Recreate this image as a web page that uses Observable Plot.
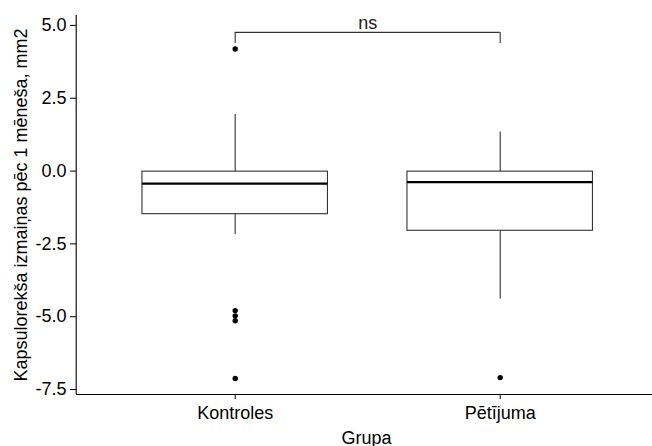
<!DOCTYPE html>
<html>
<head>
<meta charset="utf-8">
<script src="https://cdn.jsdelivr.net/npm/d3@7"></script>
<script src="https://cdn.jsdelivr.net/npm/@observablehq/plot@0.6"></script>
<style>
  html, body { margin: 0; padding: 0; background: #ffffff; }
</style>
</head>
<body>
<div id="chart"></div>
<script>
// Groups and their box-plot summaries (mm2 change after one month)
const categories = ["Kontroles", "Pētījuma"];
const q1 = [-1.48, -2.05];
const median = [-0.43, -0.38];
const q3 = [-0.02, -0.02];
const whiskerLow = [-2.18, -4.40];
const whiskerHigh = [1.94, 1.34];

// Outlying observations per group
const outlierGroup = ["Kontroles", "Kontroles", "Kontroles", "Kontroles", "Kontroles", "Pētījuma"];
const outlierValue = [4.19, -4.79, -4.97, -5.14, -7.12, -7.09];

// Axis ticks and titles
const yTicks = [-7.5, -5.0, -2.5, 0.0, 2.5, 5.0];
const yTitle = "Kapsulorekša izmaiņas pēc 1 mēneša, mm2";
const xTitle = "Grupa";

// Significance bracket between the two groups
const bracketLabel = "ns";
const bracketY = 4.76;
const bracketTip = 4.38;

const pos = (g) => categories.indexOf(g) + 1;
const half = 0.35;

const boxes = categories.map((g, i) => ({
  group: g, x: i + 1, q1: q1[i], median: median[i], q3: q3[i],
  lo: whiskerLow[i], hi: whiskerHigh[i]
}));
const outliers = outlierGroup.map((g, i) => ({x: pos(g), value: outlierValue[i]}));
const bracketEnds = [{x: 1}, {x: 2}];

const xDomain = [0.4, 2.6];
const yDomain = [-7.67, 5.34];
const lineColor = "#333333";

const chart = Plot.plot({
  width: 652,
  height: 446,
  marginLeft: 76,
  marginRight: 0,
  marginTop: 15,
  marginBottom: 52,
  style: {fontFamily: "'Liberation Sans', Arial, sans-serif", fontSize: "18px", color: "#000", background: "#fff"},
  x: {domain: xDomain, range: [75.7, 658.7], axis: null},
  y: {domain: yDomain, axis: null},
  marks: [
    // whiskers
    Plot.ruleX(boxes, {x: "x", y1: "q3", y2: "hi", stroke: lineColor, strokeWidth: 1.1}),
    Plot.ruleX(boxes, {x: "x", y1: "q1", y2: "lo", stroke: lineColor, strokeWidth: 1.1}),
    // boxes
    Plot.rect(boxes, {x1: d => d.x - half, x2: d => d.x + half, y1: "q1", y2: "q3", fill: "#fff", stroke: lineColor, strokeWidth: 1.1}),
    // medians
    Plot.ruleY(boxes, {x1: d => d.x - half, x2: d => d.x + half, y: "median", stroke: "#000", strokeWidth: 2.2}),
    // outliers
    Plot.dot(outliers, {x: "x", y: "value", r: 2.7, fill: "#000", stroke: null}),
    // significance bracket
    Plot.ruleY([bracketY], {x1: 1, x2: 2, y: d => d, stroke: lineColor, strokeWidth: 1.1}),
    Plot.ruleX(bracketEnds, {x: "x", y1: bracketTip, y2: bracketY, stroke: lineColor, strokeWidth: 1.1}),
    Plot.text([bracketLabel], {x: 1.5, y: bracketY, text: d => d, lineAnchor: "bottom", dy: -3, fill: "#222"}),
    // axes
    Plot.ruleX([xDomain[0]], {stroke: "#000", strokeWidth: 1.1}),
    Plot.ruleY([yDomain[0]], {stroke: "#000", strokeWidth: 1.1}),
    Plot.axisY({ticks: yTicks, tickFormat: d => d.toFixed(1), tickSize: 6, tickPadding: 4, label: null, stroke: "#000"}),
    Plot.axisX({ticks: categories.map((_, i) => i + 1), tickFormat: i => categories[i - 1], tickSize: 5, tickPadding: 7, label: null, stroke: "#000"}),
    // axis titles
    Plot.text([yTitle], {frameAnchor: "left", textAnchor: "middle", lineAnchor: "middle", rotate: -90, dx: -55, text: d => d}),
    Plot.text([xTitle], {frameAnchor: "bottom", dx: 2, dy: 49, lineAnchor: "bottom", text: d => d})
  ]
});

document.getElementById("chart").appendChild(chart);
</script>
</body>
</html>
